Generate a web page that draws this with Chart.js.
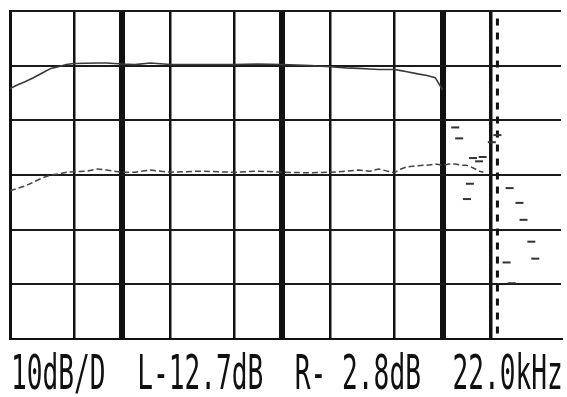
<!DOCTYPE html>
<html>
<head>
  <title>Analyzer trace</title>
  <script src="https://cdn.jsdelivr.net/npm/chart.js"></script>
  <style>
    body { margin: 0; background: #fff; width: 567px; height: 397px; overflow: hidden; position: relative; }
    canvas { position: absolute; left: 0; top: 0; }
    .readout {
      position: absolute; left: 11px; top: 348px;
      font-family: "DejaVu Sans Mono", monospace; font-size: 26.2px; line-height: 26px;
      white-space: pre; color: #111;
      transform: scaleY(1.85); transform-origin: 0 0;
    }
  </style>
</head>
<body>
  <canvas id="chart" width="567" height="345"></canvas>
  <div class="readout">10dB/D  L-12.7dB  R- 2.8dB  22.0kHz</div>

  <script>
    // frequency axis (Hz) and level axis (dB, 10dB per division)
    const freqTicks = [20, 50, 100, 200, 500, 1000, 2000, 5000, 10000, 20000];
    const dbTicks = [-50, -40, -30, -20, -10, 0, 10];

    const upperFreq = [20, 22, 25, 28, 32, 36, 40, 45, 50, 60, 70, 80, 100, 120, 150, 200, 300, 500, 700, 1000,
      1500, 2000, 2500, 3000, 3500, 4000, 5000, 5500, 6000, 7000, 8000, 9000, 10000];
    const upperDb = [-4.2, -3.6, -2.9, -2.2, -1.3, -0.5, -0.2, 0.2, 0.4, 0.45, 0.5, 0.5, 0.3, 0.2, 0.5, 0.2, 0.2, 0.2, 0.3, 0.2,
      0.0, -0.2, -0.4, -0.5, -0.6, -0.7, -0.7, -0.9, -1.1, -1.5, -1.8, -2.2, -4.4];

    const lowerFreq = [20, 22, 25, 28, 32, 36, 40, 45, 50, 60, 70, 80, 100, 120, 150, 200, 300, 500, 700, 1000,
      1500, 2000, 2500, 3000, 3500, 4000, 5000, 5500, 6000, 7000, 8000, 9000, 10000, 11000, 12000, 13000, 14000,
      15000, 16000, 17000, 18000];
    const lowerDb = [-22.9, -22.5, -22.0, -21.3, -20.5, -20.0, -19.8, -19.5, -19.4, -19.3, -18.9, -19.1, -19.5, -19.5, -19.1, -19.5, -19.3, -19.5, -19.3, -19.5,
      -19.6, -19.5, -19.3, -19.1, -19.3, -18.9, -19.6, -18.9, -18.5, -18.3, -18.2, -18.0, -18.2, -18.0, -18.0, -18.2, -18.2,
      -18.5, -18.9, -19.3, -19.5];

    // scattered marks in the roll-off region
    const noiseFreq = [12000, 12700, 14200, 14800, 15500, 16900, 17800, 20300, 22000, 26200, 30200, 32000, 35800, 37900, 25100, 27000];
    const noiseDb = [-11.3, -13.3, -24.4, -21.6, -16.9, -17.5, -16.7, -14.0, -12.7, -22.4, -25.1, -28.2, -32.2, -35.3, -36.0, -39.8];

    const cursorFreq = 22000;

    const toPoints = (xs, ys) => xs.map((x, i) => ({ x, y: ys[i] }));
    const thick = [100, 1000, 10000];

    const ctx = document.getElementById('chart').getContext('2d');
    new Chart(ctx, {
      type: 'line',
      data: {
        datasets: [
          {
            data: toPoints(upperFreq, upperDb),
            borderColor: '#3a3a3a', borderWidth: 1.6, pointRadius: 0, tension: 0
          },
          {
            data: toPoints(lowerFreq, lowerDb),
            borderColor: '#444', borderWidth: 1.5, borderDash: [6, 3], pointRadius: 0, tension: 0
          },
          {
            data: toPoints(noiseFreq, noiseDb),
            showLine: false, pointStyle: 'line', pointRadius: 4,
            pointBorderColor: '#333', pointBorderWidth: 2
          },
          {
            data: [{ x: cursorFreq, y: dbTicks[0] + 1 }, { x: cursorFreq, y: dbTicks[dbTicks.length - 1] - 0.5 }],
            borderColor: '#111', borderWidth: 3, borderDash: [7, 7], pointRadius: 0
          }
        ]
      },
      options: {
        responsive: false,
        animation: false,
        layout: { padding: { left: 10, top: 11, right: 0, bottom: 4 } },
        scales: {
          x: {
            type: 'logarithmic',
            min: 20,
            max: 54840,
            afterBuildTicks: (axis) => { axis.ticks = freqTicks.map(v => ({ value: v })); },
            ticks: { display: false },
            grid: {
              drawTicks: false,
              color: '#111',
              lineWidth: (c) => {
                const v = c.tick && c.tick.value;
                if (thick.includes(v)) return 6;
                if (v === 20000) return 3.5;
                if (v === 20) return 3;
                return 2.5;
              }
            },
            border: { display: true, color: '#111', width: 2 }
          },
          y: {
            min: dbTicks[0],
            max: dbTicks[dbTicks.length - 1],
            afterBuildTicks: (axis) => { axis.ticks = dbTicks.map(v => ({ value: v })); },
            ticks: { display: false },
            grid: { drawTicks: false, color: '#1a1a1a', lineWidth: 2 },
            border: { display: true, color: '#111', width: 3 }
          }
        },
        plugins: {
          legend: { display: false },
          tooltip: { enabled: false }
        }
      }
    });
  </script>
</body>
</html>
